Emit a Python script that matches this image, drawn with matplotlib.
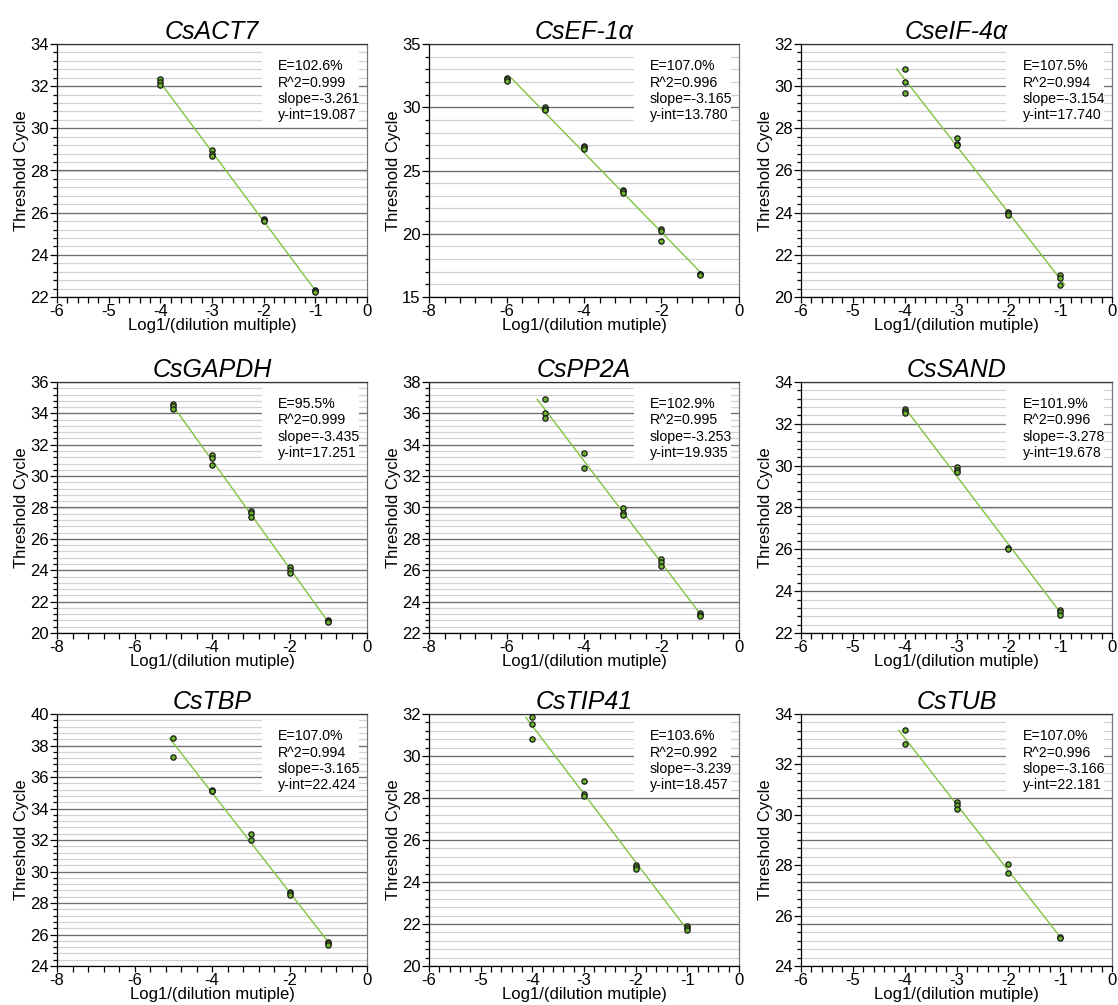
import numpy as np
import matplotlib
matplotlib.use("Agg")
import matplotlib.pyplot as plt
from matplotlib.ticker import MultipleLocator
from matplotlib.patches import Rectangle

plt.rcParams['font.family'] = ['Liberation Sans', 'DejaVu Sans']

genes = ["CsACT7", "CsEF-1\u03b1", "CseIF-4\u03b1", "CsGAPDH", "CsPP2A", "CsSAND", "CsTBP", "CsTIP41", "CsTUB"]

# dilution (log) levels and Ct replicates per gene
act7_dil = [-4, -3, -2, -1]
act7_ct = [[32.35, 32.2, 32.05], [28.95, 28.8, 28.7], [25.7, 25.65, 25.6], [22.35, 22.3, 22.25]]
ef_dil = [-6, -5, -4, -3, -2, -1]
ef_ct = [[32.3, 32.2, 32.05], [30.0, 29.85, 29.75], [26.95, 26.85, 26.7], [23.45, 23.35, 23.25],
         [20.35, 20.2, 19.4], [16.85, 16.8, 16.75]]
eif_dil = [-4, -3, -2, -1]
eif_ct = [[30.81, 30.22, 29.68], [27.53, 27.28, 27.2], [24.03, 23.97, 23.9], [21.03, 20.89, 20.58]]
gapdh_dil = [-5, -4, -3, -2, -1]
gapdh_ct = [[34.58, 34.45, 34.26], [31.32, 31.17, 30.68], [27.8, 27.67, 27.4], [24.18, 24.03, 23.82],
            [20.81, 20.76, 20.72]]
pp2a_dil = [-5, -4, -3, -2, -1]
pp2a_ct = [[36.9, 36.0, 35.72], [33.45, 32.5], [29.95, 29.68, 29.53], [26.72, 26.5, 26.3],
           [23.3, 23.17, 23.08]]
sand_dil = [-4, -3, -2, -1]
sand_ct = [[32.7, 32.62, 32.54], [29.96, 29.8, 29.7], [26.05, 26.0], [23.1, 22.99, 22.87]]
tbp_dil = [-5, -4, -3, -2, -1]
tbp_ct = [[38.45, 37.29], [35.19, 35.12, 35.08], [32.39, 32.01], [28.71, 28.62, 28.52],
          [25.55, 25.44, 25.32]]
tip_dil = [-4, -3, -2, -1]
tip_ct = [[31.84, 31.51, 30.8], [28.83, 28.21, 28.11], [24.83, 24.73, 24.6], [21.9, 21.8, 21.72]]
tub_dil = [-4, -3, -2, -1]
tub_ct = [[33.36, 32.79], [30.49, 30.38, 30.25], [28.04, 27.68], [25.15, 25.1]]

dils = [act7_dil, ef_dil, eif_dil, gapdh_dil, pp2a_dil, sand_dil, tbp_dil, tip_dil, tub_dil]
cts = [act7_ct, ef_ct, eif_ct, gapdh_ct, pp2a_ct, sand_ct, tbp_ct, tip_ct, tub_ct]

# printed fit statistics
eff = ["102.6%", "107.0%", "107.5%", "95.5%", "102.9%", "101.9%", "107.0%", "103.6%", "107.0%"]
r2 = ["0.999", "0.996", "0.994", "0.999", "0.995", "0.996", "0.994", "0.992", "0.996"]
slopes = ["-3.261", "-3.165", "-3.154", "-3.435", "-3.253", "-3.278", "-3.165", "-3.239", "-3.166"]
yints = ["19.087", "13.780", "17.740", "17.251", "19.935", "19.678", "22.424", "18.457", "22.181"]

xmins = [-6, -8, -6, -8, -8, -6, -8, -6, -6]
ylims = [(22, 34), (15, 35), (20, 32), (20, 36), (22, 38), (22, 34), (24, 40), (20, 32), (24, 34)]
ymajor = [2, 5, 2, 2, 2, 2, 2, 2, 2]
yminor = [0.4, 1, 0.4, 0.4, 0.4, 0.4, 0.4, 0.4, 1 / 3]
gridmajor = [2, 5, 2, 2, 2, 2, 2, 2, 5 / 3]

W, H = 1118, 1005
fig = plt.figure(figsize=(W / 100, H / 100), dpi=100)
col_px = [(57, 367), (429, 739), (801, 1112)]
row_px = [(44, 297), (382, 633), (714, 966)]

green_line = "#82c341"
green_dot = "#6ab42c"

for i in range(9):
    r, c = divmod(i, 3)
    l, rr = col_px[c]
    t, b = row_px[r]
    ax = fig.add_axes([l / W, 1 - b / H, (rr - l) / W, (b - t) / H])
    y0, y1 = ylims[i]
    ax.set_xlim(xmins[i], 0)
    ax.set_ylim(y0, y1)

    # horizontal grid: light minor, darker major
    for g in np.arange(y0, y1 + 1e-6, yminor[i]):
        ax.axhline(g, color="#d2d2d2", lw=0.9, zorder=0)
    for g in np.arange(y0, y1 + 1e-6, gridmajor[i]):
        ax.axhline(g, color="#6e6e6e", lw=0.9, zorder=0.5)

    # stats box
    ax.add_patch(Rectangle((0.66, 0.69), 0.315, 0.287, transform=ax.transAxes,
                           facecolor="white", edgecolor="none", zorder=1))
    txt = "E=%s\nR^2=%s\nslope=%s\ny-int=%s" % (eff[i], r2[i], slopes[i], yints[i])
    ax.text(0.712, 0.94, txt, transform=ax.transAxes, ha="left", va="top",
            fontsize=10.2, linespacing=1.22, zorder=2)

    # points
    xs, ys = [], []
    for d, reps in zip(dils[i], cts[i]):
        xs += [d] * len(reps)
        ys += reps
    xs = np.array(xs, dtype=float)
    ys = np.array(ys)
    # least-squares line, drawn across the Ct range
    m, q = np.polyfit(xs, ys, 1)
    x_a = (ys.max() - q) / m
    x_b = (ys.min() - q) / m
    ax.plot([x_a, x_b], [m * x_a + q, m * x_b + q], color=green_line, lw=1.0, zorder=3)
    ax.plot(xs, ys, "o", ms=3.8, mfc=green_dot, mec="#1a1a1a", mew=0.9, zorder=4)

    ax.xaxis.set_major_locator(MultipleLocator(1 if xmins[i] == -6 else 2))
    ax.xaxis.set_minor_locator(MultipleLocator(0.2 if xmins[i] == -6 else 0.4))
    ax.yaxis.set_major_locator(MultipleLocator(ymajor[i]))
    ax.yaxis.set_minor_locator(MultipleLocator(yminor[i]))
    ax.tick_params(axis="x", which="both", direction="out", length=4, width=0.9, labelsize=12, pad=1)
    ax.tick_params(axis="y", which="major", direction="out", length=5, width=0.9, labelsize=12, pad=1)
    ax.tick_params(axis="y", which="minor", direction="out", length=3, width=0.9)
    ax.set_xticklabels([("%g" % v) for v in ax.get_xticks()])

    for s in ["left", "bottom"]:
        ax.spines[s].set_color("black")
        ax.spines[s].set_linewidth(0.9)
    ax.spines["top"].set_color("#333333")
    ax.spines["right"].set_color("#777777")
    for s in ["top", "right"]:
        ax.spines[s].set_linewidth(0.9)

    ax.set_title(genes[i], fontsize=18, style="italic", pad=3)
    ax.set_ylabel("Threshold Cycle", fontsize=12, labelpad=1)
    xl = "Log1/(dilution multiple)" if i == 0 else "Log1/(dilution mutiple)"
    ax.set_xlabel(xl, fontsize=12, labelpad=-1)

fig.savefig("out.png", dpi=100)
